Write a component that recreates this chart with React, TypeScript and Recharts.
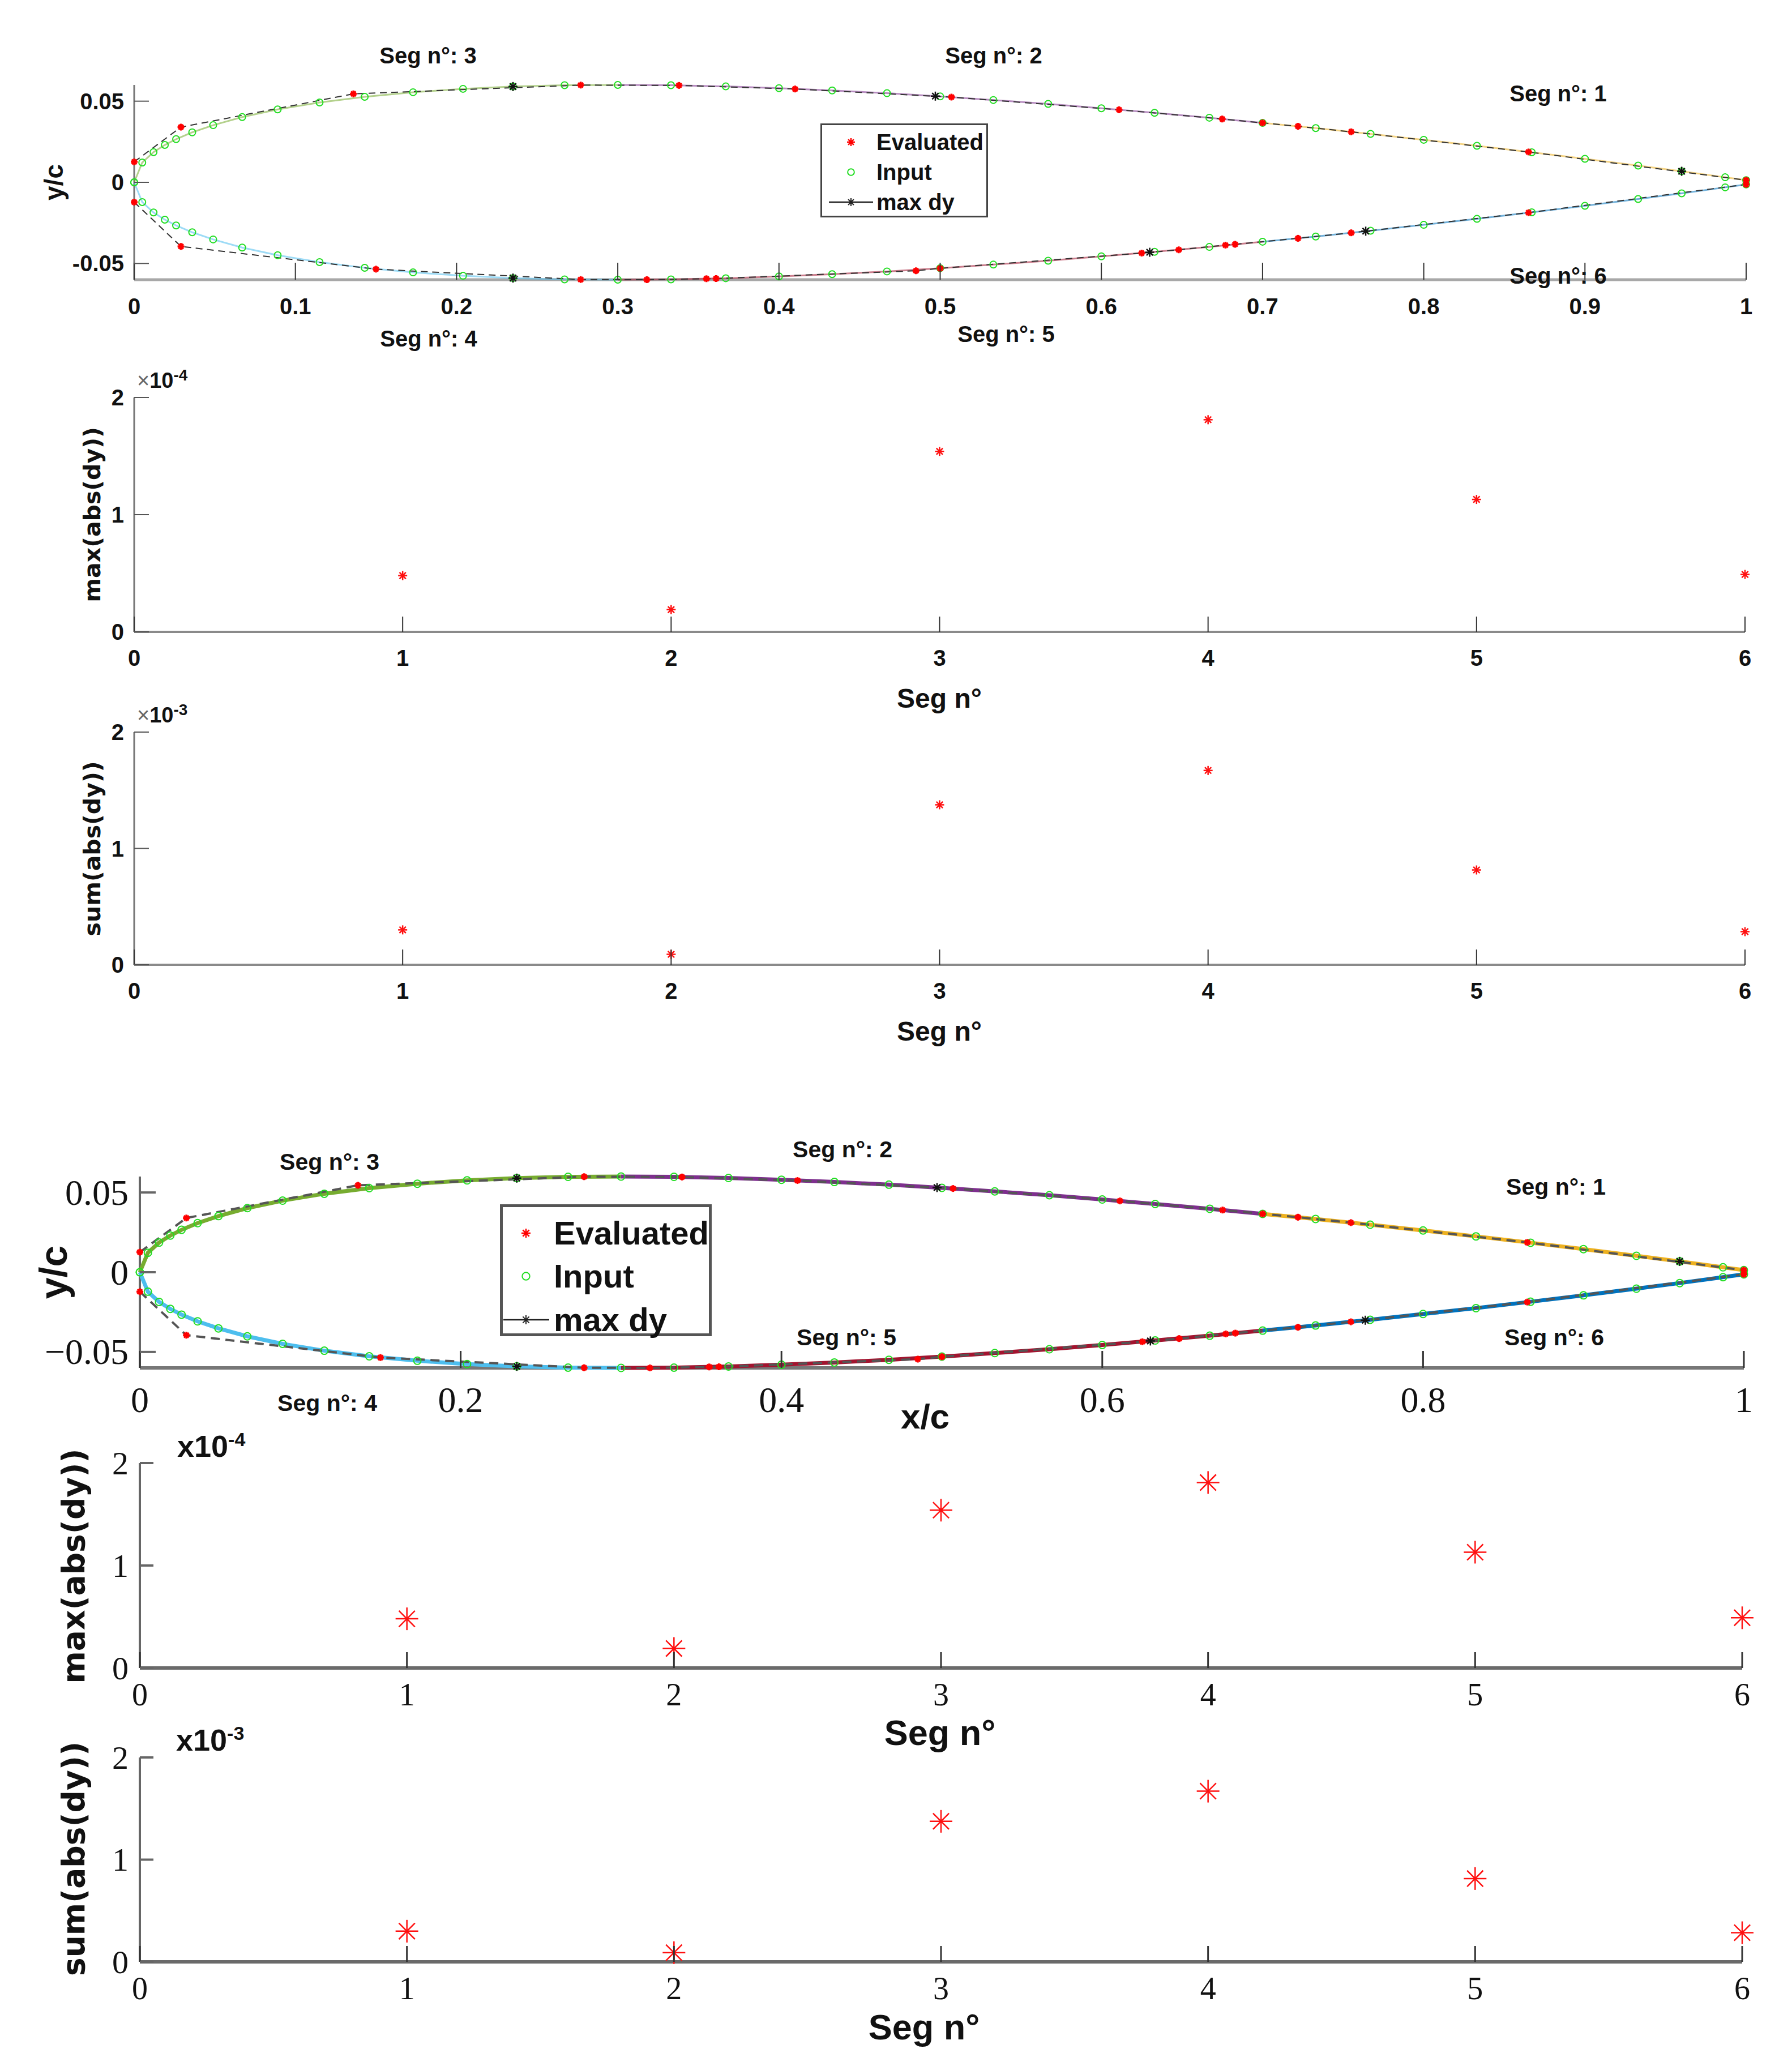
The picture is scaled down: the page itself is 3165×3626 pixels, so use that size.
import React from 'react';
import { ScatterChart, Scatter, XAxis, YAxis } from 'recharts';

// airfoil input points (x/c, y/c)
const inputX = [
  0, 0.005, 0.012, 0.019, 0.026, 0.036, 0.049, 0.067, 0.089, 0.115, 0.143, 0.173, 0.204, 0.235, 0.267,
  0.3, 0.333, 0.367, 0.4, 0.433, 0.467, 0.5, 0.533, 0.567, 0.6, 0.633, 0.667, 0.7, 0.733, 0.767, 0.8,
  0.833, 0.867, 0.9, 0.933, 0.96, 0.987, 1,
];
const inputUpperY = [
  0, 0.0122, 0.0186, 0.023, 0.0266, 0.0308, 0.0352, 0.0402, 0.0449, 0.0492, 0.0527, 0.0555, 0.0576,
  0.059, 0.0598, 0.06, 0.0598, 0.0591, 0.058, 0.0566, 0.0549, 0.0529, 0.0507, 0.0483, 0.0456, 0.0428,
  0.0398, 0.0366, 0.0334, 0.0298, 0.0262, 0.0225, 0.0185, 0.0145, 0.0103, 0.0068, 0.0031, 0.0013,
];
const inputLowerY = [
  0, -0.0122, -0.0186, -0.023, -0.0266, -0.0308, -0.0352, -0.0402, -0.0449, -0.0492, -0.0527, -0.0555,
  -0.0576, -0.059, -0.0598, -0.06, -0.0598, -0.0591, -0.058, -0.0566, -0.0549, -0.0529, -0.0507,
  -0.0483, -0.0456, -0.0428, -0.0398, -0.0366, -0.0334, -0.0298, -0.0262, -0.0225, -0.0185, -0.0145,
  -0.0103, -0.0068, -0.0031, -0.0013,
];

// evaluated points
const evalUpperX = [0, 0.029, 0.136, 0.277, 0.338, 0.41, 0.507, 0.611, 0.675, 0.7, 0.722, 0.755, 0.865, 1];
const evalUpperY = [0.0126, 0.034, 0.0545, 0.0599, 0.0597, 0.0575, 0.0525, 0.0447, 0.039, 0.0366, 0.0345, 0.0311, 0.0187, 0.0013];
const evalLowerX = [0, 0.029, 0.15, 0.277, 0.318, 0.355, 0.361, 0.485, 0.5, 0.625, 0.648, 0.677, 0.683, 0.722, 0.755, 0.865, 1];
const evalLowerY = [-0.0122, -0.0395, -0.0535, -0.0599, -0.06, -0.0594, -0.0593, -0.0545, -0.053, -0.0436, -0.0416, -0.0387, -0.0382, -0.0345, -0.0311, -0.0187, -0.0013];

// location of max dy in each segment
const maxDyX = [0.96, 0.497, 0.235, 0.235, 0.63, 0.764];
const maxDyY = [0.0068, 0.0531, 0.059, -0.059, -0.0431, -0.0301];

// error per segment
const segNo = [1, 2, 3, 4, 5, 6];
const maxAbsDy = [4.8e-5, 1.9e-5, 1.54e-4, 1.81e-4, 1.13e-4, 4.9e-5];
const sumAbsDy = [3.0e-4, 0.9e-4, 1.375e-3, 1.67e-3, 8.15e-4, 2.85e-4];

const xTicksTop = [0, 0.1, 0.2, 0.3, 0.4, 0.5, 0.6, 0.7, 0.8, 0.9, 1];
const xTicksBottom = [0, 0.2, 0.4, 0.6, 0.8, 1];
const yTicksAirfoil = [-0.05, 0, 0.05];
const segTicks = [0, 1, 2, 3, 4, 5, 6];
const errTicks = [0, 1, 2];

// segment colours, seg 1..6
const segColors = ['#EDB120', '#7E2F8E', '#77AC30', '#4DBEEE', '#A2142F', '#0072BD'];

const W = 3165;
const SANS = "'Liberation Sans', Arial, sans-serif";
const SERIF = "'Liberation Serif', 'Times New Roman', serif";
const DEJAVU = "'DejaVu Sans', sans-serif";

const pts = (xs: number[], ys: number[]) => xs.map((x, i) => ({ x, y: ys[i] }));
const upper = pts(inputX, inputUpperY);
const lower = pts(inputX, inputLowerY);
const segments = [
  upper.slice(27),
  upper.slice(15, 28),
  upper.slice(0, 16),
  lower.slice(0, 16),
  lower.slice(15, 28),
  lower.slice(27),
];
const inputPts = [...upper, ...lower];
const evalUpper = pts(evalUpperX, evalUpperY);
const evalLower = pts(evalLowerX, evalLowerY);
const maxDyPts = pts(maxDyX, maxDyY);
const maxPts = pts(segNo, maxAbsDy);
const sumPts = pts(segNo, sumAbsDy);

type Box = { left: number; top: number; right: number; bottom: number };

type TickStyle = {
  len: number;
  tickW: number;
  tickColor: string;
  font: string;
  size: number;
  weight: string | number;
  gap: number;
  fmt: (v: number) => string;
};

const xTick = (s: TickStyle) => (props: any) => {
  const { x, y, payload } = props;
  return (
    <g>
      <line x1={x} y1={y} x2={x} y2={y - s.len} stroke={s.tickColor} strokeWidth={s.tickW} />
      <text
        x={x}
        y={y + s.gap}
        textAnchor="middle"
        dominantBaseline="central"
        fontFamily={s.font}
        fontSize={s.size}
        fontWeight={s.weight}
        fill="#111"
      >
        {s.fmt(payload.value)}
      </text>
    </g>
  );
};

const yTick = (s: TickStyle) => (props: any) => {
  const { x, y, payload } = props;
  return (
    <g>
      <line x1={x} y1={y} x2={x + s.len} y2={y} stroke={s.tickColor} strokeWidth={s.tickW} />
      <text
        x={x - s.gap}
        y={y}
        textAnchor="end"
        dominantBaseline="central"
        fontFamily={s.font}
        fontSize={s.size}
        fontWeight={s.weight}
        fill="#111"
      >
        {s.fmt(payload.value)}
      </text>
    </g>
  );
};

const asterisk = (color: string, size: number, sw: number) => (props: any) => {
  const { cx, cy } = props;
  if (cx == null || cy == null) return <g />;
  const r = size / 2;
  const d = r * 0.7071;
  return (
    <g stroke={color} strokeWidth={sw}>
      <line x1={cx - r} y1={cy} x2={cx + r} y2={cy} />
      <line x1={cx} y1={cy - r} x2={cx} y2={cy + r} />
      <line x1={cx - d} y1={cy - d} x2={cx + d} y2={cy + d} />
      <line x1={cx - d} y1={cy + d} x2={cx + d} y2={cy - d} />
    </g>
  );
};

const circle = (color: string, r: number, sw: number) => (props: any) => {
  const { cx, cy } = props;
  if (cx == null || cy == null) return <g />;
  return <circle cx={cx} cy={cy} r={r} fill="none" stroke={color} strokeWidth={sw} />;
};

const noShape = () => <g />;

const PAD = 110;
const YW = 100;
const XH = 60;

function frame(box: Box) {
  return {
    style: { position: 'absolute' as const, left: 0, top: box.top - PAD },
    width: W,
    height: box.bottom - box.top + 2 * PAD,
    margin: { top: PAD, bottom: PAD - XH, left: box.left - YW, right: W - box.right },
  };
}

type Variant = 'top' | 'bottom';

function AirfoilChart({ box, v }: { box: Box; v: Variant }) {
  const f = frame(box);
  const top = v === 'top';
  const xs: TickStyle = top
    ? { len: 30, tickW: 2, tickColor: '#333', font: SANS, size: 40, weight: 'bold', gap: 47, fmt: (n) => String(n) }
    : { len: 30, tickW: 3, tickColor: '#333', font: SERIF, size: 64, weight: 'normal', gap: 56, fmt: (n) => String(n) };
  const ys: TickStyle = top
    ? { len: 26, tickW: 2, tickColor: '#555', font: SANS, size: 40, weight: 'bold', gap: 18, fmt: (n) => String(n) }
    : { len: 28, tickW: 4, tickColor: '#666', font: SERIF, size: 64, weight: 'normal', gap: 20, fmt: (n) => (n < 0 ? '\u2212' + String(-n) : String(n)) };
  const segW = top ? 3 : 7;
  const segOp = top ? 0.55 : 1;
  return (
    <div style={f.style}>
      <ScatterChart width={f.width} height={f.height} margin={f.margin}>
        <XAxis
          type="number"
          dataKey="x"
          domain={[0, 1]}
          ticks={top ? xTicksTop : xTicksBottom}
          interval={0}
          height={XH}
          tickSize={0}
          tickMargin={0}
          tickLine={false}
          axisLine={{ stroke: top ? '#a8a8a8' : '#777', strokeWidth: top ? 5 : 6 }}
          tick={xTick(xs)}
        />
        <YAxis
          type="number"
          dataKey="y"
          domain={[-0.06, 0.06]}
          ticks={yTicksAirfoil}
          interval={0}
          width={YW}
          tickSize={0}
          tickMargin={0}
          tickLine={false}
          axisLine={{ stroke: top ? '#777' : '#666', strokeWidth: top ? 3 : 4 }}
          tick={yTick(ys)}
        />
        {segments.map((seg, i) => (
          <Scatter
            key={'seg' + i}
            data={seg}
            line={{ stroke: segColors[i], strokeWidth: segW, strokeOpacity: segOp }}
            shape={noShape}
            isAnimationActive={false}
          />
        ))}
        {[evalUpper, evalLower].map((d, i) => (
          <Scatter
            key={'dash' + i}
            data={d}
            line={{
              stroke: top ? '#333' : '#555',
              strokeWidth: top ? 2 : 4,
              strokeDasharray: top ? '12 8' : '16 10',
            }}
            shape={noShape}
            isAnimationActive={false}
          />
        ))}
        <Scatter data={inputPts} shape={circle('#22dd22', top ? 6 : 6.5, 2)} isAnimationActive={false} />
        <Scatter data={evalUpper} shape={asterisk('#ff0000', 12, 3.5)} isAnimationActive={false} />
        <Scatter data={evalLower} shape={asterisk('#ff0000', 12, 3.5)} isAnimationActive={false} />
        <Scatter data={maxDyPts} shape={asterisk('#111', 16, 2.5)} isAnimationActive={false} />
      </ScatterChart>
    </div>
  );
}

function ErrChart({ box, v, data, domainMax }: { box: Box; v: Variant; data: { x: number; y: number }[]; domainMax: number }) {
  const f = frame(box);
  const top = v === 'top';
  const unit = domainMax / 2;
  const yTicks = errTicks.map((t) => t * unit);
  const xs: TickStyle = top
    ? { len: 27, tickW: 2, tickColor: '#333', font: SANS, size: 40, weight: 'bold', gap: 46, fmt: (n) => String(n) }
    : { len: 28, tickW: 3, tickColor: '#333', font: SERIF, size: 56, weight: 'normal', gap: 47, fmt: (n) => String(n) };
  const ys: TickStyle = top
    ? { len: 26, tickW: 2, tickColor: '#555', font: SANS, size: 40, weight: 'bold', gap: 18, fmt: (n) => String(Math.round(n / unit)) }
    : { len: 24, tickW: 4, tickColor: '#666', font: SERIF, size: 58, weight: 'normal', gap: 20, fmt: (n) => String(Math.round(n / unit)) };
  return (
    <div style={f.style}>
      <ScatterChart width={f.width} height={f.height} margin={f.margin}>
        <XAxis
          type="number"
          dataKey="x"
          domain={[0, 6]}
          ticks={segTicks}
          interval={0}
          height={XH}
          tickSize={0}
          tickMargin={0}
          tickLine={false}
          axisLine={{ stroke: top ? '#8a8a8a' : '#6a6a6a', strokeWidth: top ? 4 : 6 }}
          tick={xTick(xs)}
        />
        <YAxis
          type="number"
          dataKey="y"
          domain={[0, domainMax]}
          ticks={yTicks}
          interval={0}
          width={YW}
          tickSize={0}
          tickMargin={0}
          tickLine={false}
          axisLine={{ stroke: top ? '#777' : '#666', strokeWidth: top ? 3 : 4 }}
          tick={yTick(ys)}
        />
        <Scatter data={data} shape={asterisk('#ff1010', top ? 16 : 40, 2.5)} isAnimationActive={false} />
      </ScatterChart>
    </div>
  );
}

function Txt({
  x,
  y,
  size,
  children,
  font = SANS,
  weight = 'bold',
  rotate = 0,
  anchor = 'center',
  color = '#111',
  lh = 1,
}: {
  x: number;
  y: number;
  size: number;
  children: React.ReactNode;
  font?: string;
  weight?: string | number;
  rotate?: number;
  anchor?: 'center' | 'left';
  color?: string;
  lh?: number;
}) {
  const tx = anchor === 'center' ? '-50%' : '0';
  return (
    <div
      style={{
        position: 'absolute',
        left: x,
        top: y,
        transform: `translate(${tx}, -50%) rotate(${rotate}deg)`,
        fontFamily: font,
        fontSize: size,
        fontWeight: weight,
        color,
        whiteSpace: 'nowrap',
        lineHeight: lh,
      }}
    >
      {children}
    </div>
  );
}

function Legend({
  left,
  top,
  width,
  height,
  rows,
  size,
  textX,
  markX,
  lineX1,
  lineX2,
  border,
  borderColor,
  mark,
}: {
  left: number;
  top: number;
  width: number;
  height: number;
  rows: number[];
  size: number;
  textX: number;
  markX: number;
  lineX1: number;
  lineX2: number;
  border: number;
  borderColor: string;
  mark: number;
}) {
  const labels = ['Evaluated', 'Input', 'max dy'];
  const r = mark / 2;
  const d = r * 0.7071;
  const mx = markX - left;
  return (
    <div style={{ position: 'absolute', left, top, width, height }}>
      <svg width={width} height={height} style={{ position: 'absolute', left: 0, top: 0 }}>
        <rect x={border / 2} y={border / 2} width={width - border} height={height - border} fill="#fff" stroke={borderColor} strokeWidth={border} />
        <g stroke="#ff0000" strokeWidth={2.5}>
          <line x1={mx - r} y1={rows[0] - top} x2={mx + r} y2={rows[0] - top} />
          <line x1={mx} y1={rows[0] - top - r} x2={mx} y2={rows[0] - top + r} />
          <line x1={mx - d} y1={rows[0] - top - d} x2={mx + d} y2={rows[0] - top + d} />
          <line x1={mx - d} y1={rows[0] - top + d} x2={mx + d} y2={rows[0] - top - d} />
        </g>
        <circle cx={mx} cy={rows[1] - top} r={mark / 2.4} fill="none" stroke="#22dd22" strokeWidth={2} />
        <line x1={lineX1 - left} y1={rows[2] - top} x2={lineX2 - left} y2={rows[2] - top} stroke="#222" strokeWidth={2.5} />
        <g stroke="#222" strokeWidth={2}>
          <line x1={mx} y1={rows[2] - top - r} x2={mx} y2={rows[2] - top + r} />
          <line x1={mx - d} y1={rows[2] - top - d} x2={mx + d} y2={rows[2] - top + d} />
          <line x1={mx - d} y1={rows[2] - top + d} x2={mx + d} y2={rows[2] - top - d} />
        </g>
      </svg>
      {labels.map((l, i) => (
        <Txt key={l} x={textX - left} y={rows[i] - top} size={size} anchor="left">
          {l}
        </Txt>
      ))}
    </div>
  );
}

const topAir: Box = { left: 237, top: 150, right: 3084, bottom: 494 };
const topMax: Box = { left: 237, top: 702, right: 3082, bottom: 1116 };
const topSum: Box = { left: 237, top: 1293, right: 3082, bottom: 1704 };
const botAir: Box = { left: 247, top: 2078, right: 3080, bottom: 2416 };
const botMax: Box = { left: 247, top: 2584, right: 3077, bottom: 2946 };
const botSum: Box = { left: 247, top: 3104, right: 3077, bottom: 3465 };

export default function App() {
  return (
    <div style={{ position: 'absolute', left: 0, top: 0, width: W, height: 3626, background: '#fff', overflow: 'hidden' }}>
      {/* upper figure */}
      <AirfoilChart box={topAir} v="top" />
      <ErrChart box={topMax} v="top" data={maxPts} domainMax={2e-4} />
      <ErrChart box={topSum} v="top" data={sumPts} domainMax={2e-3} />

      <Txt x={756} y={98} size={40}>Seg n°: 3</Txt>
      <Txt x={1755} y={98} size={40}>Seg n°: 2</Txt>
      <Txt x={2752} y={165} size={40}>Seg n°: 1</Txt>
      <Txt x={757} y={598} size={40}>Seg n°: 4</Txt>
      <Txt x={1777} y={590} size={40}>Seg n°: 5</Txt>
      <Txt x={2752} y={487} size={40}>Seg n°: 6</Txt>
      <Txt x={95} y={322} size={46} rotate={-90}>y/c</Txt>
      <Legend
        left={1449}
        top={218}
        width={296}
        height={166}
        rows={[251, 304, 357]}
        size={40}
        textX={1548}
        markX={1503}
        lineX1={1464}
        lineX2={1542}
        border={3}
        borderColor="#444"
        mark={14}
      />

      <Txt x={163} y={909} size={41} font={DEJAVU} weight="bold" rotate={-90}>max(abs(dy))</Txt>
      <Txt x={163} y={1499} size={41} font={DEJAVU} weight="bold" rotate={-90}>sum(abs(dy))</Txt>
      <Txt x={1659} y={1234} size={48} lh={0.7}>Seg n°</Txt>
      <Txt x={1659} y={1822} size={48} lh={0.7}>Seg n°</Txt>
      <Txt x={242} y={670} size={38} anchor="left">
        <span style={{ fontWeight: 'normal', color: '#666' }}>×</span>10
        <sup style={{ fontSize: 28 }}>-4</sup>
      </Txt>
      <Txt x={242} y={1261} size={38} anchor="left">
        <span style={{ fontWeight: 'normal', color: '#666' }}>×</span>10
        <sup style={{ fontSize: 28 }}>-3</sup>
      </Txt>

      {/* lower figure */}
      <AirfoilChart box={botAir} v="bottom" />
      <ErrChart box={botMax} v="bottom" data={maxPts} domainMax={2e-4} />
      <ErrChart box={botSum} v="bottom" data={sumPts} domainMax={2e-3} />

      <Txt x={582} y={2052} size={41}>Seg n°: 3</Txt>
      <Txt x={1488} y={2030} size={41}>Seg n°: 2</Txt>
      <Txt x={2748} y={2096} size={41}>Seg n°: 1</Txt>
      <Txt x={578} y={2478} size={41}>Seg n°: 4</Txt>
      <Txt x={1495} y={2362} size={41}>Seg n°: 5</Txt>
      <Txt x={2745} y={2362} size={41}>Seg n°: 6</Txt>
      <Txt x={94} y={2247} size={68} rotate={-90}>y/c</Txt>
      <Txt x={1634} y={2502} size={62}>x/c</Txt>
      <Legend
        left={883}
        top={2127}
        width={374}
        height={233}
        rows={[2178, 2254, 2331]}
        size={58}
        textX={978}
        markX={929}
        lineX1={889}
        lineX2={970}
        border={5}
        borderColor="#555"
        mark={16}
      />

      <Txt x={130} y={2766} size={55} font={DEJAVU} weight="bold" rotate={-90}>max(abs(dy))</Txt>
      <Txt x={130} y={3283} size={55} font={DEJAVU} weight="bold" rotate={-90}>sum(abs(dy))</Txt>
      <Txt x={1660} y={3060} size={63} lh={0.55}>Seg n°</Txt>
      <Txt x={1632} y={3580} size={63} lh={0.55}>Seg n°</Txt>
      <Txt x={313} y={2553} size={54} anchor="left">
        x10<sup style={{ fontSize: 34 }}>-4</sup>
      </Txt>
      <Txt x={311} y={3072} size={54} anchor="left">
        x10<sup style={{ fontSize: 34 }}>-3</sup>
      </Txt>
    </div>
  );
}
